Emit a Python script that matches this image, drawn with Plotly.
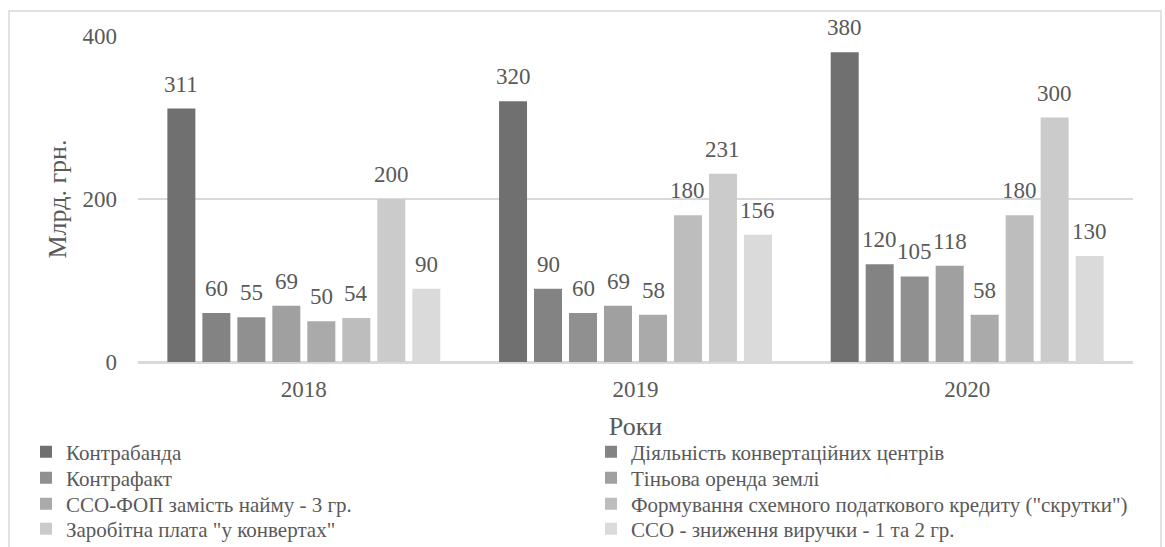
import plotly.graph_objects as go

# Years on the category axis
years = ["2018", "2019", "2020"]

# Series names (legend order)
series_names = [
    "Контрабанда",
    "Діяльність конвертаційних центрів",
    "Контрафакт",
    "Тіньова оренда землі",
    "ССО-ФОП замість найму - 3 гр.",
    "Формування схемного податкового кредиту (\"скрутки\")",
    "Заробітна плата \"у конвертах\"",
    "ССО - зниження виручки - 1 та 2 гр.",
]

# Values, billion UAH, one list per series (2018, 2019, 2020)
kontrabanda = [311, 320, 380]
konvert_centry = [60, 90, 120]
kontrafakt = [55, 60, 105]
orenda_zemli = [69, 69, 118]
sso_fop = [50, 58, 58]
skrutky = [54, 180, 180]
zarplata_konverty = [200, 231, 300]
sso_vyruchka = [90, 156, 130]

series_values = [
    kontrabanda, konvert_centry, kontrafakt, orenda_zemli,
    sso_fop, skrutky, zarplata_konverty, sso_vyruchka,
]

# Grey shades for the eight series
colors = ["#707070", "#838383", "#909090", "#a0a0a0",
          "#aaaaaa", "#bdbdbd", "#cbcbcb", "#dadada"]

FONT = "Times New Roman"
TEXT = "#595959"
GRID = "#d9d9d9"

W, H = 1165, 547
ML, MR, MT, MB = 138, 32, 36, 185
BARGAP, BARGROUPGAP = 0.156, 0.2

pw = W - ML - MR
ph = H - MT - MB


def px_x(px):
    return (px - ML) / pw


def px_y(py):
    return (H - MB - py) / ph


# The legend is laid out as four rows of two entries each
legend_ids = ["legend", "legend2", "legend3", "legend4"]
legend_rows_px = [452, 478, 504, 529]

fig = go.Figure()
for k, (name, vals, col) in enumerate(zip(series_names, series_values, colors)):
    fig.add_trace(go.Bar(
        name=name, x=years, y=vals,
        marker=dict(color=col, line=dict(width=0)),
        legend=legend_ids[k // 2],
        hovertemplate="%{x}: %{y}<extra>" + name + "</extra>",
    ))

# Value labels above each bar, positioned at the bar's slot in its group
n = len(series_values)
slot = (1 - BARGAP) / n
annotations = []
for k, vals in enumerate(series_values):
    for i, v in enumerate(vals):
        annotations.append(dict(
            x=i + (k - (n - 1) / 2) * slot, y=v, xref="x", yref="y",
            text=str(v), showarrow=False, yanchor="bottom", yshift=10,
            font=dict(family=FONT, size=23, color=TEXT),
        ))

# Light frame around the whole chart
shapes = [dict(
    type="rect", xref="paper", yref="paper",
    x0=px_x(9), x1=px_x(1161), y0=px_y(560), y1=px_y(11),
    line=dict(color=GRID, width=1.5), fillcolor="rgba(0,0,0,0)", layer="below",
)]

legends = {}
for lid, row_y in zip(legend_ids, legend_rows_px):
    legends[lid] = dict(
        orientation="h", x=px_x(26), xanchor="left", y=px_y(row_y),
        yanchor="middle", entrywidth=520, entrywidthmode="pixels",
        traceorder="normal", font=dict(family=FONT, size=21, color=TEXT),
        bgcolor="rgba(0,0,0,0)", borderwidth=0, itemclick=False,
        itemdoubleclick=False,
    )

fig.update_layout(
    width=W, height=H,
    margin=dict(l=ML, r=MR, t=MT, b=MB, autoexpand=False),
    paper_bgcolor="white", plot_bgcolor="white",
    barmode="group", bargap=BARGAP, bargroupgap=BARGROUPGAP,
    font=dict(family=FONT, color=TEXT),
    xaxis=dict(
        type="category", showgrid=False, showline=True, linecolor=GRID,
        linewidth=1.5, ticks="", ticklabelstandoff=6,
        tickfont=dict(family=FONT, size=23, color=TEXT),
        title=dict(text="Роки", font=dict(family=FONT, size=26, color=TEXT),
                   standoff=15),
        automargin=False,
    ),
    yaxis=dict(
        range=[0, 400], dtick=200, showgrid=True, gridcolor=GRID,
        gridwidth=1.5, zeroline=True, zerolinecolor=GRID, zerolinewidth=1.5,
        showline=False, ticks="", ticklabelstandoff=20,
        tickfont=dict(family=FONT, size=23, color=TEXT),
        title=dict(text="Млрд. грн.", font=dict(family=FONT, size=26, color=TEXT),
                   standoff=8),
        automargin=False,
    ),
    annotations=annotations,
    shapes=shapes,
    showlegend=True,
    **legends,
)

fig.write_html("out.html")
